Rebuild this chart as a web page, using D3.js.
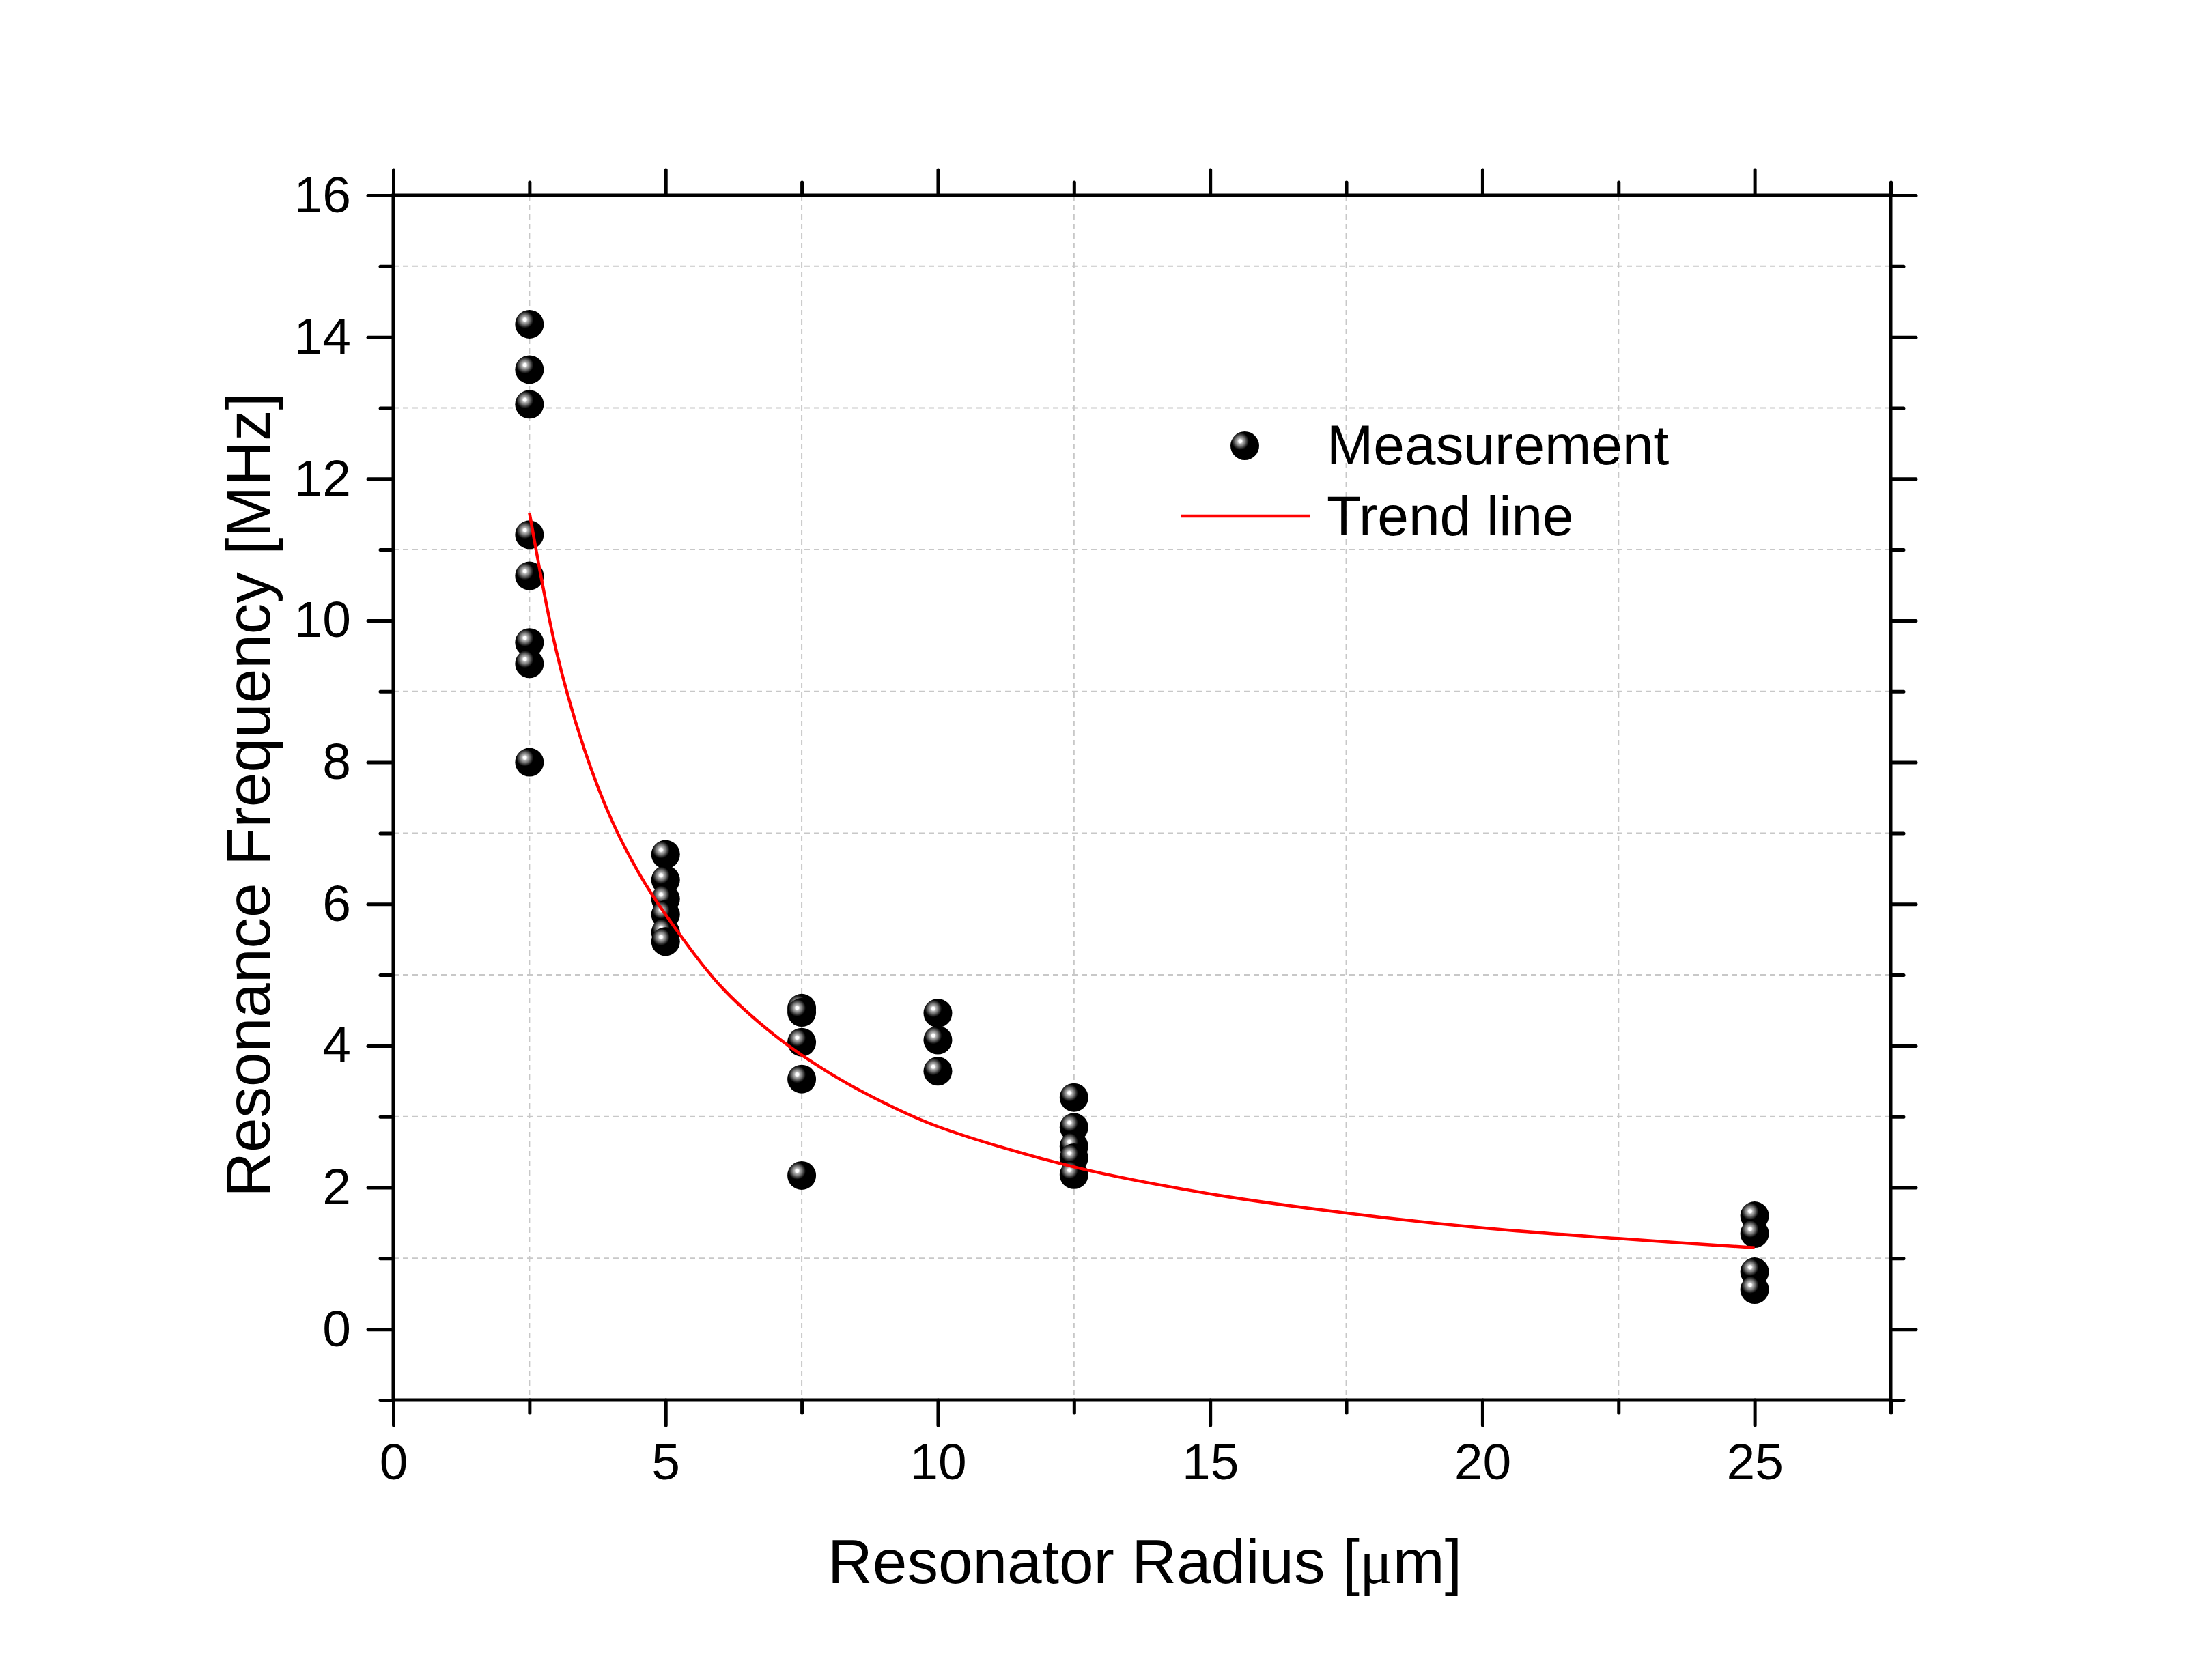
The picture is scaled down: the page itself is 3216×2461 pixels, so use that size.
<!DOCTYPE html>
<html>
<head>
<meta charset="utf-8">
<script src="https://cdn.jsdelivr.net/npm/d3@7"></script>
<style>
  html, body { margin: 0; padding: 0; background: #fff; }
  svg { display: block; }
  text { font-family: "Liberation Sans", Arial, sans-serif; fill: #000; }
</style>
</head>
<body>
<script>
// ---------- data ----------
const radiusValues = [2.5, 2.5, 2.5, 2.5, 2.5, 2.5, 2.5, 2.5,
                      5, 5, 5, 5, 5, 5,
                      7.5, 7.5, 7.5, 7.5, 7.5,
                      10, 10, 10,
                      12.5, 12.5, 12.5, 12.5, 12.5,
                      25, 25, 25, 25];
const frequencyValues = [14.18, 13.54, 13.05, 11.21, 10.63, 9.69, 9.39, 8.00,
                         6.70, 6.34, 6.07, 5.85, 5.60, 5.47,
                         4.53, 4.47, 4.05, 3.53, 2.17,
                         4.46, 4.08, 3.64,
                         3.27, 2.85, 2.58, 2.42, 2.18,
                         1.60, 1.35, 0.81, 0.56];
const trendX = [2.5, 3, 3.5, 4, 4.5, 5, 6, 7, 8, 9, 10, 12.5, 15, 17.5, 20, 22.5, 25];
const trendY = [11.52, 9.55, 8.2, 7.2, 6.45, 5.85, 4.85, 4.15, 3.62, 3.2, 2.86, 2.29, 1.91, 1.64, 1.43, 1.28, 1.15];
const xMajorTicks = [0, 5, 10, 15, 20, 25];
const xMinorTicks = [2.5, 7.5, 12.5, 17.5, 22.5, 27.5];
const yMajorTicks = [0, 2, 4, 6, 8, 10, 12, 14, 16];
const yMinorTicks = [-1, 1, 3, 5, 7, 9, 11, 13, 15];
const xTitle = "Resonator Radius [";
const xTitleUnit = "μ";
const xTitleEnd = "m]";
const yTitle = "Resonance Frequency [MHz]";
const legendLabels = ["Measurement", "Trend line"];

// ---------- layout ----------
const W = 3216, H = 2461;
const L = 576, R = 2769, T = 286, B = 2051;

const svg = d3.select("body").append("svg")
  .attr("width", W).attr("height", H).attr("viewBox", `0 0 ${W} ${H}`);

const defs = svg.append("defs");
const grad = defs.append("radialGradient").attr("id", "sphere")
  .attr("cx", 0.34).attr("cy", 0.34).attr("r", 0.3).attr("fx", 0.34).attr("fy", 0.34);
[[0, "#ffffff"], [0.18, "#ffffff"], [0.32, "#b4b4b4"], [0.55, "#7c7c7c"], [0.78, "#3a3a3a"], [1, "#000000"]]
  .forEach(([o, c]) => grad.append("stop").attr("offset", o).attr("stop-color", c));

const x = d3.scaleLinear().domain([0, 27.5]).range([L, R]);
const y = d3.scaleLinear().domain([-1, 16]).range([B, T]);

// ---------- grid ----------
const grid = svg.append("g").attr("stroke", "#c8c8c8").attr("stroke-width", 2).attr("stroke-dasharray", "8,6");
grid.selectAll("line.vx").data(xMinorTicks.filter(v => v < 27.5)).enter().append("line")
  .attr("x1", d => x(d)).attr("x2", d => x(d)).attr("y1", T).attr("y2", B);
grid.selectAll("line.hy").data(yMinorTicks.filter(v => v > -1)).enter().append("line")
  .attr("x1", L).attr("x2", R).attr("y1", d => y(d)).attr("y2", d => y(d));

// ---------- markers ----------
const pts = radiusValues.map((r, i) => ({ r, f: frequencyValues[i] }));
svg.append("g").selectAll("circle").data(pts).enter().append("circle")
  .attr("cx", d => x(d.r)).attr("cy", d => y(d.f)).attr("r", 21)
  .attr("fill", "url(#sphere)");

// ---------- trend line ----------
const line = d3.line().x(d => x(d[0])).y(d => y(d[1])).curve(d3.curveCatmullRom.alpha(0.5));
svg.append("path").datum(trendX.map((v, i) => [v, trendY[i]]))
  .attr("d", line).attr("fill", "none").attr("stroke", "#ff0000").attr("stroke-width", 4.5)
  .attr("stroke-linejoin", "round");

// ---------- axes ----------
function styleAxis(g) {
  g.select(".domain").remove();
  g.selectAll(".tick line").attr("stroke", "#000").attr("stroke-width", 5).attr("stroke-linecap", "round");
  g.selectAll("text").style("font-size", "75px").attr("font-family", "Liberation Sans, Arial, sans-serif");
}
const none = () => "";
// bottom
svg.append("g").attr("transform", `translate(0,${B})`)
  .call(d3.axisBottom(x).tickValues(xMajorTicks).tickSize(37).tickPadding(26).tickFormat(d3.format("d")))
  .call(styleAxis);
svg.append("g").attr("transform", `translate(0,${B})`)
  .call(d3.axisBottom(x).tickValues(xMinorTicks).tickSize(19).tickFormat(none)).call(styleAxis);
// top
svg.append("g").attr("transform", `translate(0,${T})`)
  .call(d3.axisTop(x).tickValues(xMajorTicks).tickSize(37).tickFormat(none)).call(styleAxis);
svg.append("g").attr("transform", `translate(0,${T})`)
  .call(d3.axisTop(x).tickValues(xMinorTicks).tickSize(19).tickFormat(none)).call(styleAxis);
// left
svg.append("g").attr("transform", `translate(${L},0)`)
  .call(d3.axisLeft(y).tickValues(yMajorTicks).tickSize(37).tickPadding(25).tickFormat(d3.format("d")))
  .call(styleAxis);
svg.append("g").attr("transform", `translate(${L},0)`)
  .call(d3.axisLeft(y).tickValues(yMinorTicks).tickSize(19).tickFormat(none)).call(styleAxis);
// right
svg.append("g").attr("transform", `translate(${R},0)`)
  .call(d3.axisRight(y).tickValues(yMajorTicks).tickSize(37).tickFormat(none)).call(styleAxis);
svg.append("g").attr("transform", `translate(${R},0)`)
  .call(d3.axisRight(y).tickValues(yMinorTicks).tickSize(19).tickFormat(none)).call(styleAxis);

// frame
svg.append("rect").attr("x", L).attr("y", T).attr("width", R - L).attr("height", B - T)
  .attr("fill", "none").attr("stroke", "#000").attr("stroke-width", 5);

// ---------- titles ----------
const xt = svg.append("text").attr("x", (L + R) / 2 + 4).attr("y", 2319)
  .attr("text-anchor", "middle").style("font-size", "91px");
xt.append("tspan").text(xTitle);
xt.append("tspan").style("font-family", "Liberation Serif, serif").text(xTitleUnit);
xt.append("tspan").text(xTitleEnd);

svg.append("text").attr("transform", `translate(395,${(T + B) / 2 - 4}) rotate(-90)`)
  .attr("text-anchor", "middle").style("font-size", "91px").text(yTitle);

// ---------- legend ----------
const lg = svg.append("g");
lg.append("circle").attr("cx", 1823).attr("cy", 653).attr("r", 21).attr("fill", "url(#sphere)");
lg.append("line").attr("x1", 1730).attr("x2", 1919).attr("y1", 756).attr("y2", 756)
  .attr("stroke", "#ff0000").attr("stroke-width", 4.5);
lg.append("text").attr("x", 1943).attr("y", 680).style("font-size", "82px").text(legendLabels[0]);
lg.append("text").attr("x", 1943).attr("y", 784).style("font-size", "82px").text(legendLabels[1]);
</script>
</body>
</html>
